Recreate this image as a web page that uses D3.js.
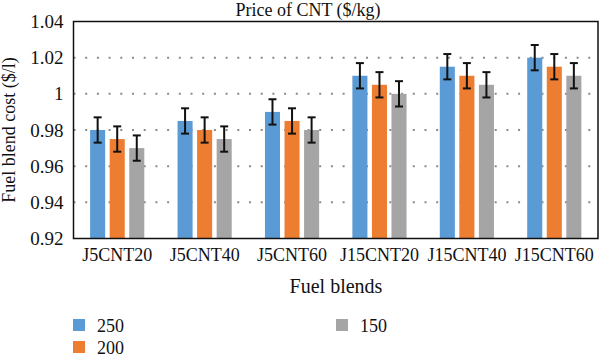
<!DOCTYPE html>
<html>
<head>
<meta charset="utf-8">
<script src="https://cdn.jsdelivr.net/npm/d3@7"></script>
<style>
  html, body { margin: 0; padding: 0; background: #fff; }
  svg { display: block; }
  text { font-family: "Liberation Serif", "Times New Roman", serif; fill: #111; }
</style>
</head>
<body>
<svg id="chart" width="600" height="356"></svg>
<script>
const categories = ["J5CNT20", "J5CNT40", "J5CNT60", "J15CNT20", "J15CNT40", "J15CNT60"];
const seriesNames = ["250", "200", "150"];
const values250 = [0.980, 0.985, 0.990, 1.010, 1.015, 1.020];
const values200 = [0.975, 0.980, 0.985, 1.005, 1.010, 1.015];
const values150 = [0.970, 0.975, 0.980, 1.000, 1.005, 1.010];
const errors = [0.007, 0.007, 0.007, 0.007, 0.007, 0.007];
const yTicks = [0.92, 0.94, 0.96, 0.98, 1, 1.02, 1.04];
const colors = ["#5B9BD5", "#ED7D31", "#A5A5A5"];
const seriesValues = [values250, values200, values150];

const svg = d3.select("#chart");
const m = { left: 73.5, right: 598, top: 21.5, bottom: 238.5 };

const x0 = d3.scaleBand().domain(categories).range([m.left, m.right]).paddingInner(0).paddingOuter(0);
const x1 = d3.scaleBand().domain(seriesNames).range([0, x0.bandwidth()]).paddingInner(0.23).paddingOuter(0.85);
const y = d3.scaleLinear().domain([0.92, 1.04]).range([m.bottom, m.top]);

// gridlines
svg.append("g").selectAll("line").data(yTicks.slice(1, -1)).join("line")
  .attr("x1", m.left).attr("x2", m.right)
  .attr("y1", d => y(d)).attr("y2", d => y(d))
  .attr("stroke", "#8a8a8a").attr("stroke-width", 2)
  .attr("stroke-dasharray", "2,9.7");

// bars
const rows = [];
categories.forEach((c, i) => seriesNames.forEach((s, j) => rows.push({ c, s, j, v: seriesValues[j][i], e: errors[i] })));
svg.append("g").selectAll("rect").data(rows).join("rect")
  .attr("x", d => x0(d.c) + x1(d.s))
  .attr("width", x1.bandwidth())
  .attr("y", d => y(d.v))
  .attr("height", d => y(0.92) - y(d.v))
  .attr("fill", d => colors[d.j]);

// error bars
const eg = svg.append("g").attr("stroke", "#111").attr("stroke-width", 2);
rows.forEach(d => {
  const cx = x0(d.c) + x1(d.s) + x1.bandwidth() / 2;
  eg.append("line").attr("x1", cx).attr("x2", cx).attr("y1", y(d.v + d.e)).attr("y2", y(d.v - d.e));
  eg.append("line").attr("x1", cx - 4).attr("x2", cx + 4).attr("y1", y(d.v + d.e)).attr("y2", y(d.v + d.e));
  eg.append("line").attr("x1", cx - 4).attr("x2", cx + 4).attr("y1", y(d.v - d.e)).attr("y2", y(d.v - d.e));
});

// frame
svg.append("rect").attr("x", m.left).attr("y", m.top)
  .attr("width", m.right - m.left).attr("height", m.bottom - m.top)
  .attr("fill", "none").attr("stroke", "#111").attr("stroke-width", 1.5);

// y axis
const yAxis = d3.axisLeft(y).tickValues(yTicks).tickSize(0).tickPadding(10)
  .tickFormat(d => d3.format("")(+d.toFixed(2)));
const ya = svg.append("g").attr("transform", `translate(${m.left},0)`).call(yAxis);
ya.select(".domain").remove();
ya.selectAll("text").attr("font-size", 19).attr("font-family", "Liberation Serif").attr("fill", "#111");

// x axis
const xAxis = d3.axisBottom(x0).tickSize(0).tickPadding(10);
const xa = svg.append("g").attr("transform", `translate(0,${m.bottom})`).call(xAxis);
xa.select(".domain").remove();
xa.selectAll("text").attr("font-size", 18).attr("font-family", "Liberation Serif").attr("fill", "#111");

// titles
svg.append("text").attr("x", 308).attr("y", 16).attr("text-anchor", "middle")
  .attr("font-size", 18).text("Price of CNT ($/kg)");
svg.append("text").attr("x", 336).attr("y", 293).attr("text-anchor", "middle")
  .attr("font-size", 20).text("Fuel blends");
svg.append("text").attr("transform", `translate(15,${(m.top + m.bottom) / 2}) rotate(-90)`)
  .attr("text-anchor", "middle").attr("font-size", 18).text("Fuel blend cost ($/l)");

// legend
const legendPos = [{ x: 73, y: 319 }, { x: 73, y: 341 }, { x: 336, y: 319 }];
const lg = svg.append("g").selectAll("g").data(seriesNames).join("g")
  .attr("transform", (d, i) => `translate(${legendPos[i].x},${legendPos[i].y})`);
lg.append("rect").attr("width", 12).attr("height", 12).attr("fill", (d, i) => colors[i]);
lg.append("text").attr("x", 24).attr("y", 12.5).attr("font-size", 18).text(d => d);
</script>
</body>
</html>
